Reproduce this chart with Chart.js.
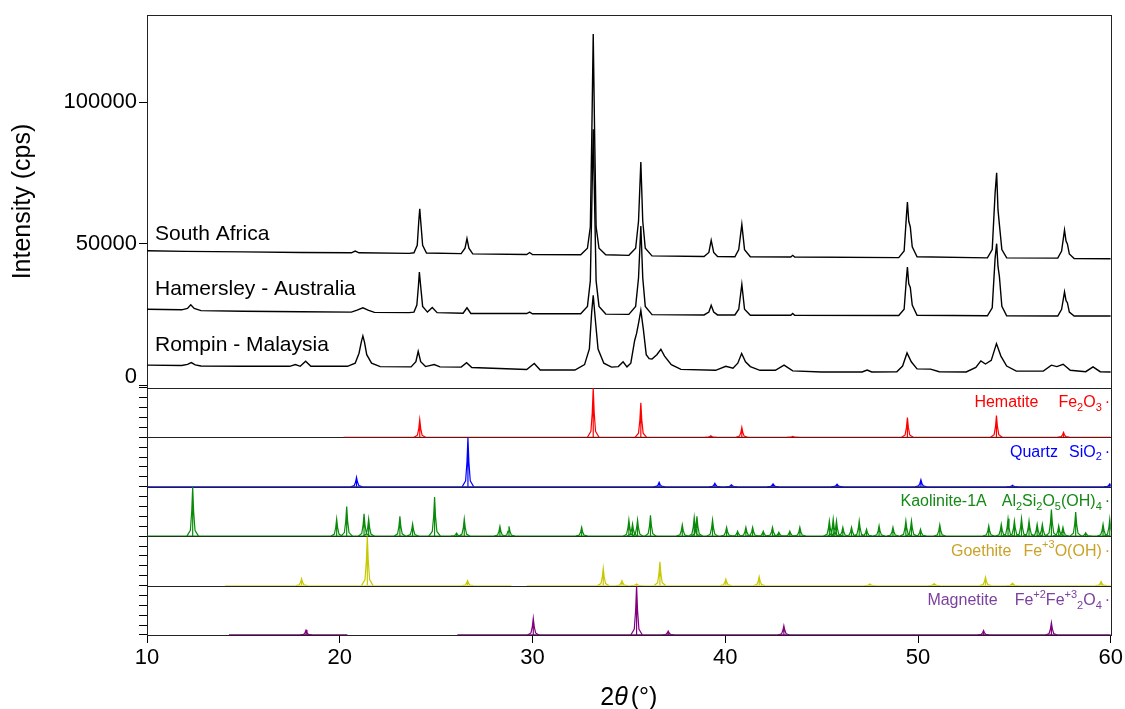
<!DOCTYPE html>
<html>
<head>
<meta charset="utf-8">
<script src="https://cdn.jsdelivr.net/npm/chart.js@4.4.1/dist/chart.umd.min.js"></script>
<style>
  html, body { margin: 0; background: #fff; }
  #wrap { width: 1125px; height: 709px; }
</style>
</head>
<body>
<div id="wrap"><canvas id="xrdChart" width="1125" height="709"></canvas></div>
<script>
const xTicks = [10, 20, 30, 40, 50, 60];
const mainTicks = [0, 50000, 100000];

// measured patterns, [2theta, cps]
const sampleNames = ['South Africa', 'Hamersley - Australia', 'Rompin - Malaysia'];
const southAfrica = [
  [10, 47600], [12, 47400], [15, 47200], [18, 47000], [20.6, 46900], [20.8, 47500], [21.0, 46900], [23.6, 46700],
  [23.85, 46900], [24.02, 49500], [24.1, 58000], [24.15, 62400], [24.2, 58000], [24.3, 49500], [24.5, 46800],
  [26.3, 46600], [26.5, 48500], [26.6, 51900], [26.7, 48500], [26.9, 46500],
  [29.7, 46300], [29.85, 47000], [30.0, 46300],
  [32.5, 46200], [32.85, 48500], [33.0, 56000], [33.08, 90000], [33.15, 124000], [33.22, 90000], [33.3, 56000], [33.45, 48500], [33.8, 46200],
  [35.0, 46000], [35.35, 48500], [35.5, 58000], [35.62, 78900], [35.72, 58000], [35.85, 48500], [36.2, 45800],
  [38.9, 45600], [39.15, 47000], [39.27, 51300], [39.4, 47000], [39.6, 45600],
  [40.5, 45500], [40.7, 48000], [40.86, 56900], [41.0, 48000], [41.3, 45500],
  [43.4, 45400], [43.5, 46000], [43.6, 45400],
  [49.0, 45200], [49.28, 47500], [49.4, 60000], [49.45, 64800], [49.52, 58000], [49.6, 56000], [49.7, 49000], [49.95, 45500],
  [53.6, 45100], [53.85, 48000], [54.0, 68000], [54.08, 75100], [54.15, 62000], [54.22, 57000], [54.35, 48000], [54.6, 45100],
  [57.25, 45000], [57.45, 47500], [57.6, 54900], [57.68, 51000], [57.75, 50000], [57.85, 46500], [58.1, 44900],
  [60, 44800]
];
const hamersley = [
  [10, 27000], [11.8, 26800], [12.1, 27300], [12.27, 28600], [12.45, 27300], [12.8, 26500], [15, 26300], [18, 26100],
  [20.6, 26000], [20.9, 26700], [21.2, 27500], [21.5, 26600], [21.8, 25900], [23.6, 25800],
  [23.85, 26000], [24.0, 28500], [24.08, 35000], [24.13, 40100], [24.2, 35000], [24.3, 28000], [24.55, 26000], [24.8, 27600], [25.05, 25800],
  [26.4, 25600], [26.6, 27500], [26.8, 25500],
  [29.7, 25500], [29.85, 26000], [30.0, 25400],
  [32.5, 25400], [32.85, 28000], [33.0, 37000], [33.08, 65000], [33.15, 90400], [33.22, 65000], [33.3, 37000], [33.45, 28000], [33.8, 25300],
  [35.0, 25200], [35.35, 28000], [35.5, 38000], [35.62, 56300], [35.72, 38000], [35.85, 28000], [36.2, 25100],
  [38.9, 25000], [39.15, 26000], [39.27, 28400], [39.4, 26000], [39.6, 25000],
  [40.5, 25000], [40.7, 27000], [40.86, 35800], [41.0, 27000], [41.3, 24900],
  [43.4, 24900], [43.5, 25500], [43.6, 24900],
  [49.0, 24800], [49.28, 27000], [49.4, 38000], [49.45, 41900], [49.52, 36000], [49.6, 34700], [49.7, 28500], [49.95, 24900],
  [53.6, 24700], [53.85, 27500], [54.0, 45000], [54.08, 50100], [54.15, 42000], [54.22, 38700], [54.35, 28000], [54.6, 24700],
  [57.25, 24600], [57.45, 27000], [57.6, 33100], [57.68, 30000], [57.75, 29300], [57.85, 26000], [58.1, 24600],
  [60, 24600]
];
const rompin = [
  [10, 7300], [11.8, 7200], [12.1, 7600], [12.3, 8200], [12.5, 7400], [12.8, 7000], [15, 6900],
  [17.4, 6900], [17.7, 7500], [17.95, 6900], [18.23, 8700], [18.5, 6900],
  [20.4, 6900], [20.8, 8000], [21.0, 11500], [21.12, 15500], [21.2, 17600], [21.28, 15500], [21.4, 11000], [21.65, 8000], [22.1, 6800],
  [23.7, 6700], [23.95, 8500], [24.07, 12200], [24.2, 8500], [24.45, 6800], [24.9, 7500], [25.2, 6700],
  [26.3, 6600], [26.58, 8200], [26.85, 6500],
  [29.7, 5800], [30.09, 7900], [30.4, 5600],
  [32.2, 5600], [32.7, 7500], [32.95, 13000], [33.07, 26000], [33.15, 31900], [33.25, 24000], [33.4, 13000], [33.7, 8000],
  [34.1, 6600], [34.45, 6800], [34.7, 8500], [34.9, 6700],
  [35.1, 8000], [35.3, 16000], [35.4, 18500], [35.5, 22000], [35.62, 26600], [35.75, 20000], [35.9, 11000], [36.05, 9600],
  [36.2, 9500], [36.45, 11000], [36.66, 12900], [36.85, 10500], [37.2, 7500], [37.7, 5800],
  [39.5, 5500], [40.03, 6900], [40.4, 6200], [40.65, 8000], [40.85, 11400], [41.05, 8500], [41.3, 6800], [41.8, 5500],
  [42.6, 5500], [43.05, 7300], [43.5, 5300],
  [45, 4900], [47.1, 4900], [47.36, 5600], [47.6, 4900],
  [48.9, 5000], [49.2, 7000], [49.43, 11600], [49.65, 8500], [49.95, 6000], [50.65, 5900], [51.1, 5000],
  [52.5, 4900], [53.0, 6500], [53.26, 8800], [53.5, 7700], [53.8, 9000], [54.07, 14900], [54.3, 10500], [54.6, 7000], [55.1, 5200],
  [56.5, 5200], [56.92, 7300], [57.2, 6800], [57.53, 7600], [57.9, 5500], [58.7, 5000], [59.08, 6700], [59.45, 5000],
  [60, 4900]
];

// reference phases, [2theta, relative intensity %]
const phaseNames = ['Hematite', 'Quartz', 'Kaolinite-1A', 'Goethite', 'Magnetite'];
const hematitePeaks = [[24.15, 36], [33.15, 100], [35.62, 70], [39.25, 3], [40.86, 20], [43.5, 2], [49.45, 40], [54.07, 44], [57.55, 10]];
const quartzPeaks = [[20.87, 19], [26.65, 100], [36.57, 9], [39.46, 7], [40.32, 4], [42.48, 6], [45.8, 5], [50.15, 14], [54.9, 3], [59.95, 6]];
const kaolinitePeaks = [
  [12.37, 100], [19.84, 35], [20.36, 60], [21.26, 45], [21.5, 35], [23.12, 40], [23.78, 25], [24.92, 79], [26.06, 6], [26.46, 35],
  [28.31, 20], [28.78, 20], [32.55, 18], [35.0, 33], [35.19, 25], [35.45, 33], [36.12, 42], [37.77, 23], [38.39, 38], [38.53, 40],
  [39.34, 33], [40.07, 18], [40.64, 10], [41.07, 18], [41.42, 18], [41.97, 10], [42.45, 18], [42.78, 8], [43.35, 10], [43.87, 18],
  [45.4, 31], [45.6, 35], [45.77, 31], [46.1, 18], [46.55, 18], [46.95, 31], [47.33, 14], [47.98, 21], [48.7, 18], [49.37, 31],
  [49.66, 31], [50.13, 14], [51.13, 23], [53.67, 21], [54.32, 24], [54.67, 35], [55.0, 31], [55.37, 36], [55.76, 31], [56.18, 24],
  [56.45, 24], [56.92, 54], [57.3, 21], [57.52, 18], [58.18, 49], [58.7, 7], [59.6, 24], [59.95, 35]
];
const goethitePeaks = [[18.02, 14], [21.43, 100], [26.63, 10], [33.67, 35], [34.64, 10], [35.4, 3], [36.61, 48], [40.03, 13], [41.76, 18], [47.5, 3], [50.84, 4], [53.5, 17], [54.9, 5], [59.5, 8]];
const magnetitePeaks = [[18.25, 10], [30.04, 34], [35.4, 100], [37.04, 8], [43.04, 19], [53.4, 9], [56.92, 25]];

// 2theta extent of each reference pattern line
const hematiteRange = [[20.2, 60]];
const quartzRange = [[10, 60]];
const kaoliniteRange = [[10, 60]];
const goethiteRange = [[14.05, 28.9], [29.7, 60]];
const magnetiteRange = [[14.25, 20.4], [26.1, 60]];

const FONT = '"Liberation Sans", Arial, sans-serif';
Chart.defaults.font.family = FONT;
Chart.defaults.color = '#000';

const phases = [
  { id: 'yHem', peaks: hematitePeaks, range: hematiteRange, line: '#ff0000', text: '#ff0000',
    formula: [['Fe', 0], ['2', 1], ['O', 0], ['3', 1]], gap: 20 },
  { id: 'yQtz', peaks: quartzPeaks, range: quartzRange, line: '#0000ff', text: '#0000ff',
    formula: [['SiO', 0], ['2', 1]], gap: 11 },
  { id: 'yKao', peaks: kaolinitePeaks, range: kaoliniteRange, line: '#0a8a0a', text: '#138a13',
    formula: [['Al', 0], ['2', 1], ['Si', 0], ['2', 1], ['O', 0], ['5', 1], ['(OH)', 0], ['4', 1]], gap: 15 },
  { id: 'yGoe', peaks: goethitePeaks, range: goethiteRange, line: '#c8c800', text: '#c9a227',
    formula: [['Fe', 0], ['+3', 2], ['O(OH)', 0]], gap: 12 },
  { id: 'yMag', peaks: magnetitePeaks, range: magnetiteRange, line: '#800080', text: '#7b3f9e',
    formula: [['Fe', 0], ['+2', 2], ['Fe', 0], ['+3', 2], ['2', 1], ['O', 0], ['4', 1]], gap: 17 }
];

const peakShape = [[-0.3, 0], [-0.12, 0.12], [-0.05, 0.5], [0, 1], [0.05, 0.5], [0.12, 0.12], [0.3, 0]];
function peakPoints(peaks) {
  const pts = [];
  peaks.forEach(([pos, h]) => {
    peakShape.forEach(([dx, f]) => pts.push({ x: pos + dx, y: h * f }));
    pts.push({ x: pos + 0.3, y: null });
    pts.push({ x: pos, y: 0 }, { x: pos, y: h }, { x: pos, y: null });
  });
  return pts;
}
function rangePoints(range) {
  const pts = [];
  range.forEach(([a, b]) => pts.push({ x: a, y: 0 }, { x: b, y: 0 }, { x: b, y: null }));
  return pts;
}
const xy = arr => arr.map(p => ({ x: p[0], y: p[1] }));

const datasets = [southAfrica, hamersley, rompin].map((d, i) => ({
  label: sampleNames[i], data: xy(d), yAxisID: 'yMain',
  borderColor: '#000', borderWidth: 1.4
}));
phases.forEach((p, i) => {
  datasets.push({ label: phaseNames[i] + ' line', data: rangePoints(p.range), yAxisID: p.id, borderColor: p.line, borderWidth: 1.3 });
  datasets.push({ label: phaseNames[i], data: peakPoints(p.peaks), yAxisID: p.id, borderColor: p.line, borderWidth: 1.2 });
});

const subAxis = (weight) => ({
  type: 'linear', position: 'left', stack: 'xrd', stackWeight: 49.6, weight: weight,
  min: 0, max: 100,
  ticks: { display: false, stepSize: 20 },
  grid: { drawOnChartArea: false, drawTicks: true, tickLength: 8, color: '#000' },
  border: { display: false },
  afterFit: s => { s.width = 147; }
});

const textPlugin = {
  id: 'xrdText',
  beforeDatasetsDraw(chart) {
    const { ctx, chartArea: a, scales } = chart;
    ctx.save();
    ctx.strokeStyle = '#222';
    ctx.lineWidth = 1;
    ['yMain', 'yHem', 'yQtz', 'yKao', 'yGoe', 'yMag'].forEach(id => {
      const s = scales[id];
      const t = Math.round(s.top) + 0.5, b = Math.round(s.bottom) + 0.5;
      const l = Math.round(a.left) + 0.5;
      ctx.strokeRect(l, t, Math.round(a.right) - Math.round(a.left), b - t);
    });

    // sample labels
    const yMain = scales.yMain;
    ctx.fillStyle = '#000';
    ctx.textBaseline = 'middle';
    ctx.textAlign = 'left';
    ctx.font = '21px ' + FONT;
    [53500, 33900, 14300].forEach((v, i) => {
      ctx.fillText(sampleNames[i], a.left + 8, yMain.getPixelForValue(v));
    });
    // zero label sits above its tick in the original
    ctx.textAlign = 'right';
    ctx.font = '22px ' + FONT;
    ctx.fillText('0', a.left - 10, yMain.bottom - 11);

    // phase labels with formulas
    ctx.textAlign = 'left';
    phases.forEach((p, i) => {
      const s = scales[p.id];
      const y = s.top + 15;
      const right = a.right - 9;
      ctx.fillStyle = p.text;
      let w = 0;
      p.formula.forEach(([t, k]) => { ctx.font = (k ? '11px ' : '16px ') + FONT; w += ctx.measureText(t).width; });
      let x = right - w;
      p.formula.forEach(([t, k]) => {
        ctx.font = (k ? '11px ' : '16px ') + FONT;
        ctx.fillText(t, x, y + (k === 1 ? 5 : k === 2 ? -6 : 0));
        x += ctx.measureText(t).width;
      });
      ctx.font = '16px ' + FONT;
      ctx.fillText('\u00b7', right + 3, y);
      ctx.textAlign = 'right';
      ctx.fillText(phaseNames[i], right - w - p.gap, y);
      ctx.textAlign = 'left';
    });
    ctx.restore();
  },
  afterDraw(chart) {
    const { ctx, chartArea: a } = chart;
    ctx.save();
    ctx.fillStyle = '#000';
    ctx.textBaseline = 'middle';
    const parts = [['2', '25px '], ['\u03b8', 'italic 25px '], ['(\u00b0)', '25px ']];
    let w = 0;
    parts.forEach(([t, f]) => { ctx.font = f + FONT; w += ctx.measureText(t).width; });
    w += 3;
    let x = (a.left + a.right) / 2 - w / 2;
    parts.forEach(([t, f], i) => {
      ctx.font = f + FONT;
      ctx.fillText(t, x, 698);
      x += ctx.measureText(t).width + (i === 1 ? 3 : 0);
    });
    ctx.restore();
  }
};

new Chart(document.getElementById('xrdChart'), {
  type: 'line',
  data: { datasets: datasets },
  options: {
    responsive: false,
    devicePixelRatio: 1,
    animation: false,
    parsing: true,
    spanGaps: false,
    elements: { point: { radius: 0 }, line: { tension: 0 } },
    layout: { padding: { left: 0, right: 14, top: 13, bottom: 0 } },
    plugins: { legend: { display: false }, tooltip: { enabled: false } },
    scales: {
      x: {
        type: 'linear', position: 'bottom', min: 10, max: 60,
        afterBuildTicks: s => { s.ticks = xTicks.map(v => ({ value: v })); },
        ticks: { font: { size: 22 }, padding: 2, maxRotation: 0, callback: v => String(v) },
        grid: { drawOnChartArea: false, drawTicks: true, tickLength: 8, color: '#000' },
        border: { display: false },
        afterFit: s => { s.height = 74; }
      },
      yMain: {
        type: 'linear', position: 'left', stack: 'xrd', stackWeight: 374, weight: 6,
        min: -700, max: 130600,
        afterBuildTicks: s => { s.ticks = mainTicks.map(v => ({ value: v })); },
        ticks: { font: { size: 22 }, padding: 2, callback: v => (v === 0 ? '' : String(v)) },
        grid: { drawOnChartArea: false, drawTicks: true, tickLength: 8, color: '#000' },
        border: { display: false },
        title: { display: true, text: 'Intensity (cps)', font: { size: 25 }, padding: { top: 8, bottom: 0 } },
        afterFit: s => { s.width = 147; }
      },
      yHem: subAxis(5),
      yQtz: subAxis(4),
      yKao: subAxis(3),
      yGoe: subAxis(2),
      yMag: subAxis(1)
    }
  },
  plugins: [textPlugin]
});
</script>
</body>
</html>
